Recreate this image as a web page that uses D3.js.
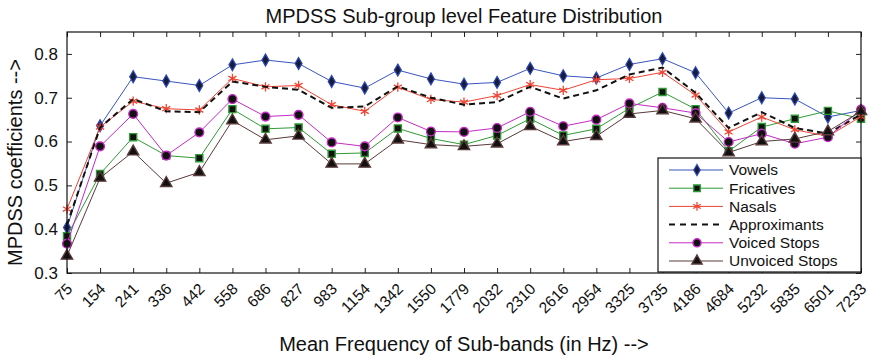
<!DOCTYPE html>
<html>
<head>
<meta charset="utf-8">
<script src="https://cdn.jsdelivr.net/npm/d3@7"></script>
<style>
  html, body { margin: 0; padding: 0; background: #fff; }
  svg text { font-family: "Liberation Sans", Arial, Helvetica, sans-serif; fill: #111; }
</style>
</head>
<body>
<svg id="chart" width="870" height="358"></svg>
<script>
// Mean frequency of each sub-band (Hz)
const bands = ["75","154","241","336","442","558","686","827","983","1154","1342","1550","1779","2032","2310","2616","2954","3325","3735","4186","4684","5232","5835","6501","7233"];

const vowels       = [0.404,0.636,0.748,0.738,0.728,0.775,0.786,0.778,0.737,0.722,0.763,0.743,0.731,0.735,0.767,0.750,0.745,0.776,0.789,0.757,0.665,0.700,0.697,0.656,0.671];
const fricatives   = [0.384,0.526,0.610,0.568,0.562,0.674,0.629,0.632,0.572,0.574,0.630,0.607,0.593,0.614,0.652,0.614,0.629,0.676,0.713,0.674,0.578,0.633,0.652,0.670,0.652];
const nasals       = [0.446,0.633,0.692,0.675,0.672,0.744,0.725,0.728,0.684,0.669,0.724,0.696,0.690,0.705,0.730,0.717,0.741,0.744,0.758,0.706,0.622,0.656,0.627,0.612,0.657];
const approximants = [0.410,0.632,0.697,0.669,0.667,0.737,0.725,0.718,0.677,0.680,0.726,0.700,0.684,0.690,0.725,0.698,0.717,0.753,0.769,0.711,0.631,0.667,0.631,0.618,0.662];
const voicedStops  = [0.367,0.589,0.663,0.568,0.621,0.697,0.657,0.661,0.598,0.589,0.655,0.623,0.622,0.631,0.668,0.635,0.650,0.687,0.677,0.665,0.599,0.618,0.595,0.610,0.673];
const unvoicedStops= [0.339,0.517,0.577,0.505,0.530,0.648,0.604,0.613,0.549,0.549,0.604,0.593,0.589,0.595,0.635,0.600,0.612,0.663,0.671,0.652,0.575,0.600,0.606,0.623,0.669];

const yTicks = [0.3, 0.4, 0.5, 0.6, 0.7, 0.8];

const series = [
  { name: "Vowels",          values: vowels,        color: "#3a55c0", edge: "#2a4ab8", marker: "diamond" },
  { name: "Fricatives",      values: fricatives,    color: "#2f9a35", edge: "#2f9a35", marker: "square" },
  { name: "Nasals",          values: nasals,        color: "#ee4433", edge: "#ee4433", marker: "star" },
  { name: "Approximants",    values: approximants,  color: "#111111", edge: "#111",    marker: "none", dash: "6,4" },
  { name: "Voiced Stops",    values: voicedStops,   color: "#c52ac5", edge: "#c52ac5", marker: "circle" },
  { name: "Unvoiced Stops",  values: unvoicedStops, color: "#5a3a3a", edge: "#5a3a3a", marker: "triangle" }
];

const svg = d3.select("#chart");
const margin = { left: 67, right: 9, top: 32, bottom: 85 };
const W = 870, H = 358;
const x0 = margin.left, x1 = W - margin.right;
const yTop = margin.top, yBot = H - margin.bottom;

const x = d3.scalePoint().domain(bands).range([x0, x1]);
const y = d3.scaleLinear().domain([0.3, 0.85]).range([yBot, yTop]);

// Axes with inward ticks on all four sides
const g = svg.append("g");
const tickLen = 5;

const axBottom = g.append("g").attr("transform", `translate(0,${yBot})`)
  .call(d3.axisBottom(x).tickSizeInner(-tickLen).tickSizeOuter(0));
axBottom.select(".domain").remove();
axBottom.selectAll("text")
  .attr("x", 0).attr("y", 0).attr("dy", "0.35em")
  .attr("text-anchor", "end")
  .attr("font-size", 15.5)
  .attr("transform", "translate(2,13) rotate(-45)");

const axTop = g.append("g").attr("transform", `translate(0,${yTop})`)
  .call(d3.axisTop(x).tickSizeInner(-tickLen).tickSizeOuter(0).tickFormat(""));
axTop.select(".domain").remove();

const axLeft = g.append("g").attr("transform", `translate(${x0},0)`)
  .call(d3.axisLeft(y).tickValues(yTicks).tickFormat(d3.format(".1f")).tickSizeInner(-tickLen).tickSizeOuter(0).tickPadding(9));
axLeft.select(".domain").remove();
axLeft.selectAll("text").attr("font-size", 17);

const axRight = g.append("g").attr("transform", `translate(${x1},0)`)
  .call(d3.axisRight(y).tickValues(yTicks).tickFormat("").tickSizeInner(-tickLen).tickSizeOuter(0));
axRight.select(".domain").remove();

g.selectAll(".tick line").attr("stroke", "#222").attr("stroke-width", 1);

// Series lines
const line = d3.line().x((d, i) => x(bands[i])).y(d => y(d));

function drawMarker(sel, s, k) {
  if (s.marker === "none") return;
  if (s.marker === "star") {
    sel.append("path").attr("d", d3.symbol().type(d3.symbolAsterisk).size(60 * k)())
      .attr("fill", "none").attr("stroke", s.color).attr("stroke-width", 1.3);
  } else if (s.marker === "diamond") {
    sel.append("path").attr("d", d3.symbol().type(d3.symbolDiamond).size(42 * k)())
      .attr("fill", "#1a1a3a").attr("stroke", s.edge).attr("stroke-width", 1.2);
  } else {
    const sizes = { square: 50, circle: 60, triangle: 55 };
    const types = { square: d3.symbolSquare, circle: d3.symbolCircle, triangle: d3.symbolTriangle };
    sel.append("path").attr("d", d3.symbol().type(types[s.marker]).size(sizes[s.marker] * k)())
      .attr("fill", "#111").attr("stroke", s.edge).attr("stroke-width", 1.4);
  }
}

series.forEach(s => {
  g.append("path").datum(s.values)
    .attr("d", line)
    .attr("fill", "none")
    .attr("stroke", s.color)
    .attr("stroke-width", s.dash ? 2 : 1)
    .attr("stroke-dasharray", s.dash || null);
  if (s.marker !== "none") {
    g.append("g").selectAll("g").data(s.values).join("g")
      .attr("transform", (d, i) => `translate(${x(bands[i])},${y(d)})`)
      .each(function() { drawMarker(d3.select(this), s, 1); });
  }
});

// Plot frame
g.append("rect").attr("x", x0).attr("y", yTop).attr("width", x1 - x0).attr("height", yBot - yTop)
  .attr("fill", "none").attr("stroke", "#111").attr("stroke-width", 1.2);

// Legend
const lg = svg.append("g");
const lx = 658, ly = 158, lw = x1 - lx, lh = 114;
lg.append("rect").attr("x", lx).attr("y", ly).attr("width", lw).attr("height", lh)
  .attr("fill", "#fff").attr("stroke", "#111").attr("stroke-width", 1.2);
series.forEach((s, i) => {
  const cy = ly + 12 + i * 18.2;
  const row = lg.append("g");
  row.append("line").attr("x1", lx + 11).attr("x2", lx + 65).attr("y1", cy).attr("y2", cy)
    .attr("stroke", s.color).attr("stroke-width", s.dash ? 2 : 1)
    .attr("stroke-dasharray", s.dash ? "6,5" : null);
  const m = row.append("g").attr("transform", `translate(${lx + 39},${cy})`);
  drawMarker(m, s, 0.85);
  row.append("text").attr("x", lx + 71).attr("y", cy).attr("dy", "0.35em")
    .attr("font-size", 15.5).text(s.name);
});

// Titles
svg.append("text").attr("x", (x0 + x1) / 2).attr("y", 23).attr("text-anchor", "middle")
  .attr("font-size", 20).text("MPDSS Sub-group level Feature Distribution");
svg.append("text").attr("x", (x0 + x1) / 2).attr("y", 351).attr("text-anchor", "middle")
  .attr("font-size", 20).text("Mean Frequency of Sub-bands (in Hz) -->");
svg.append("text").attr("transform", `translate(22,${(yTop + yBot) / 2 + 10}) rotate(-90)`)
  .attr("text-anchor", "middle").attr("font-size", 20).text("MPDSS coefficients -->");
</script>
</body>
</html>
